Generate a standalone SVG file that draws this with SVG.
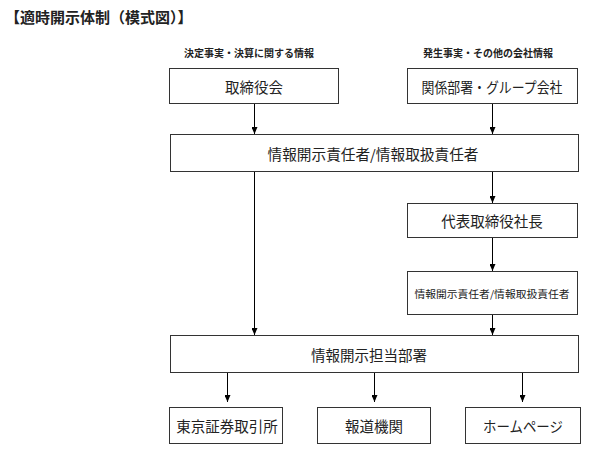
<svg xmlns="http://www.w3.org/2000/svg" width="591" height="457" viewBox="0 0 591 457">
<defs>
<marker id="ah" markerWidth="7" markerHeight="6" refX="7" refY="3" orient="auto" markerUnits="userSpaceOnUse" viewBox="0 0 7 6">
<path d="M0,0 L7,3 L0,6 Z" fill="#000"/>
</marker>
</defs>
<style>
text{font-family:"Noto Sans CJK JP","Noto Sans CJK SC",sans-serif;fill:#222;text-anchor:middle;dominant-baseline:central}
.box{fill:#fff;stroke:#333;stroke-width:1}
.t{font-size:14.5px}
.s{font-size:10px;font-weight:bold}
.sm{font-size:10px}
.title{font-size:15px;font-weight:bold;text-anchor:start}
.c{stroke:#000;stroke-width:1;fill:none}
</style>
<rect width="591" height="457" fill="#fff"/>
<text class="title" x="5" y="16">【適時開示体制（模式図）】</text>
<text class="s" x="249" y="52">決定事実・決算に関する情報</text>
<text class="s" x="488" y="52">発生事実・その他の会社情報</text>
<g id="connectors">
<line class="c" x1="254.5" y1="104" x2="254.5" y2="134" marker-end="url(#ah)"/>
<line class="c" x1="492.5" y1="103" x2="492.5" y2="134" marker-end="url(#ah)"/>
<line class="c" x1="492.5" y1="171" x2="492.5" y2="203" marker-end="url(#ah)"/>
<line class="c" x1="492.5" y1="237" x2="492.5" y2="271" marker-end="url(#ah)"/>
<line class="c" x1="492.5" y1="314" x2="492.5" y2="335" marker-end="url(#ah)"/>
<line class="c" x1="254.5" y1="171" x2="254.5" y2="335" marker-end="url(#ah)"/>
<line class="c" x1="227.5" y1="372" x2="227.5" y2="402" marker-end="url(#ah)"/>
<line class="c" x1="374.5" y1="372" x2="374.5" y2="402" marker-end="url(#ah)"/>
<line class="c" x1="522.5" y1="372" x2="522.5" y2="402" marker-end="url(#ah)"/>
</g>
<g id="n1"><rect class="box" x="169.5" y="68.5" width="169" height="35"/><text class="t" x="254" y="86">取締役会</text></g>
<g id="n2"><rect class="box" x="407.5" y="68.5" width="170" height="35"/><text class="t" x="492" y="86" textLength="141" lengthAdjust="spacingAndGlyphs">関係部署・グループ会社</text></g>
<g id="n3"><rect class="box" x="170.5" y="134.5" width="408" height="37"/><text class="t" x="373" y="153" textLength="211" lengthAdjust="spacingAndGlyphs">情報開示責任者/情報取扱責任者</text></g>
<g id="n4"><rect class="box" x="407.5" y="203.5" width="170" height="34"/><text class="t" x="492" y="220">代表取締役社長</text></g>
<g id="n5"><rect class="box" x="407.5" y="271.5" width="170" height="43"/><text class="sm" x="492" y="293" textLength="155" lengthAdjust="spacingAndGlyphs">情報開示責任者/情報取扱責任者</text></g>
<g id="n6"><rect class="box" x="170.5" y="335.5" width="408" height="37"/><text class="t" x="369" y="354">情報開示担当部署</text></g>
<g id="n7"><rect class="box" x="169.5" y="407.5" width="113" height="36"/><text class="t" x="227" y="425">東京証券取引所</text></g>
<g id="n8"><rect class="box" x="317.5" y="407.5" width="113" height="36"/><text class="t" x="374" y="425">報道機関</text></g>
<g id="n9"><rect class="box" x="465.5" y="407.5" width="115" height="36"/><text class="t" x="523" y="425" textLength="80" lengthAdjust="spacingAndGlyphs">ホームページ</text></g>
</svg>
